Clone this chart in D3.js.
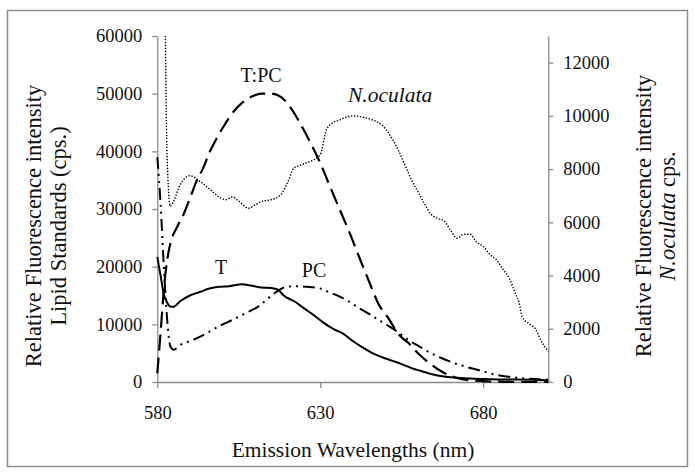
<!DOCTYPE html>
<html>
<head>
<meta charset="utf-8">
<script src="https://cdn.jsdelivr.net/npm/d3@7"></script>
</head>
<body style="margin:0">
<script>
// wavelengths (nm) and intensities, one pair of arrays per curve
var tWl = [580, 581, 582, 583, 584, 585, 587, 590, 593, 596, 599, 602, 606, 609, 612, 615, 617, 619, 622, 625, 628, 631, 634, 637, 640, 643, 646, 649, 652, 655, 658, 661, 664, 668, 672, 676, 680, 685, 690, 695, 700];
var tVal = [21700, 18500, 15200, 13800, 13100, 13050, 14000, 15000, 15600, 16200, 16500, 16600, 16950, 16700, 16400, 16300, 16000, 14900, 14000, 12800, 11600, 10300, 9200, 8400, 7100, 6000, 5000, 4300, 3700, 3100, 2400, 1900, 1400, 950, 750, 600, 520, 450, 420, 380, 300];

var tpcWl = [580, 581, 582, 583, 584, 586, 588, 590, 592, 594, 596, 598, 600, 603, 606, 609, 612, 615, 618, 621, 624, 627, 630, 633, 636, 639, 642, 645, 648, 651, 654, 657, 660, 663, 666, 669, 672, 676, 680, 685, 690, 695, 700];
var tpcVal = [1500, 8500, 16000, 21000, 24000, 26800, 29000, 31800, 34800, 37000, 39800, 42000, 44000, 46600, 48400, 49500, 50000, 50000, 49400, 47500, 44700, 41500, 38000, 33900, 29900, 25900, 21600, 17400, 13400, 11000, 8300, 6800, 5000, 3500, 2250, 1300, 700, 300, 150, 50, 0, 0, 0];

var pcWl = [580, 581, 582, 583, 584, 585, 587, 591, 595, 599, 603, 607, 611, 614, 617, 619, 622, 626, 630, 633, 636, 639, 642, 645, 648, 651, 654, 657, 660, 663, 667, 671, 675, 679, 684, 688, 692, 696, 700];
var pcVal = [39000, 31000, 20000, 11000, 6200, 5600, 6400, 7300, 8400, 9700, 10750, 11900, 13100, 14500, 15800, 16400, 16600, 16500, 16200, 15500, 14800, 13900, 12800, 11800, 10750, 9700, 8600, 7300, 6300, 5300, 4200, 3300, 2600, 2000, 1250, 900, 650, 500, 400];

var nocWl = [582, 583, 584, 585, 587, 590, 593, 596, 599, 601, 603, 605, 608, 610, 612, 615, 618, 620, 622, 624, 626, 628, 630, 632, 634, 636, 638, 640, 643, 646, 649, 651, 654, 656, 658, 660, 662, 664, 666, 668, 670, 672, 674, 676, 678, 680, 682, 684, 686, 688, 690, 691, 692, 694, 696, 698, 700];
var nocVal = [20000, 8500, 6600, 6800, 7400, 7750, 7550, 7250, 6950, 6850, 6950, 6800, 6530, 6650, 6780, 6850, 7050, 7500, 8050, 8150, 8250, 8350, 8550, 9500, 9750, 9850, 9950, 10000, 9950, 9850, 9650, 9350, 8700, 8150, 7600, 7150, 6700, 6300, 6150, 6050, 5700, 5400, 5550, 5550, 5250, 5100, 4800, 4600, 4250, 3900, 3300, 3000, 2450, 2200, 2000, 1500, 1150];

var xTicks = [580, 630, 680];
var leftTicks = [0, 10000, 20000, 30000, 40000, 50000, 60000];
var rightTicks = [0, 2000, 4000, 6000, 8000, 10000, 12000];

var width = 695, height = 473;
var serif = 'Liberation Serif';

var svg = d3.select('body')
  .append('svg')
  .attr('width', width)
  .attr('height', height);

// outer frame of the chart area
svg.append('rect')
  .attr('x', 7.5).attr('y', 10.5)
  .attr('width', 680).attr('height', 456)
  .attr('fill', 'none')
  .attr('stroke', '#8c8c8c')
  .attr('stroke-width', 1.5);

var x = d3.scaleLinear().domain([580, 700]).range([157.3, 548.3]);
var yL = d3.scaleLinear().domain([0, 60000]).range([382, 36]);
var yR = d3.scaleLinear().domain([0, 13000]).range([382, 36]);

svg.append('clipPath').attr('id', 'plot')
  .append('rect')
  .attr('x', x(580) - 2).attr('y', yL(60000))
  .attr('width', x(700) - x(580) + 4).attr('height', yL(0) - yL(60000) + 2);

function styleAxis(g) {
  g.attr('font-family', serif).attr('font-size', 18.5);
  g.selectAll('path, line').attr('stroke', '#8c8c8c').attr('stroke-width', 1.3);
  g.selectAll('text').attr('fill', '#111');
}

var fmt = d3.format('d');

svg.append('g')
  .attr('transform', 'translate(0,' + yL(0) + ')')
  .call(d3.axisBottom(x).tickValues(xTicks).tickFormat(fmt).tickSize(6).tickSizeOuter(0).tickPadding(18))
  .call(styleAxis);

svg.append('g')
  .attr('transform', 'translate(' + x(580) + ',0)')
  .call(d3.axisLeft(yL).tickValues(leftTicks).tickFormat(fmt).tickSize(5).tickSizeOuter(0).tickPadding(10))
  .call(styleAxis);

svg.append('g')
  .attr('transform', 'translate(' + x(700) + ',0)')
  .call(d3.axisRight(yR).tickValues(rightTicks).tickFormat(fmt).tickSize(5).tickSizeOuter(0).tickPadding(10))
  .call(styleAxis);

function pairs(wl, val) {
  return wl.map(function(w, i) { return [w, val[i]]; });
}

function drawLine(data, yScale, dash, sw) {
  var line = d3.line()
    .x(function(d) { return x(d[0]); })
    .y(function(d) { return yScale(d[1]); })
    .curve(d3.curveMonotoneX);
  svg.append('path')
    .datum(data)
    .attr('clip-path', 'url(#plot)')
    .attr('d', line)
    .attr('fill', 'none')
    .attr('stroke', '#000')
    .attr('stroke-width', sw)
    .attr('stroke-dasharray', dash);
}

drawLine(pairs(nocWl, nocVal), yR, '1.4,1.6', 1.4);
drawLine(pairs(pcWl, pcVal), yL, '12,5,2,5,2,5', 2);
drawLine(pairs(tpcWl, tpcVal), yL, '16,7', 2.2);
drawLine(pairs(tWl, tVal), yL, null, 2);

function label(xp, yp, txt, anchor, size) {
  return svg.append('text')
    .attr('x', xp).attr('y', yp)
    .attr('text-anchor', anchor)
    .attr('font-family', serif)
    .attr('font-size', size || 20)
    .attr('fill', '#111')
    .text(txt);
}

// series labels
label(261, 81.5, 'T:PC', 'middle');
label(348, 101.5, 'N.oculata', 'start', 21.5).attr('font-style', 'italic');
label(221, 274, 'T', 'middle');
label(314, 276.5, 'PC', 'middle');

// axis titles
label(353, 457, 'Emission Wavelengths (nm)', 'middle', 21.5);

var lt = label(0, 0, null, 'middle', 22.5).attr('transform', 'translate(41,226) rotate(-90)');
lt.append('tspan').attr('x', 0).attr('y', 0).text('Relative Fluorescence intensity');
lt.append('tspan').attr('x', 0).attr('y', 25).text('Lipid Standards (cps.)');

var rt = label(0, 0, null, 'middle', 22.5).attr('transform', 'translate(651,216) rotate(-90)');
rt.append('tspan').attr('x', 0).attr('y', 0).text('Relative Fluorescence intensity');
var rt2 = rt.append('tspan').attr('x', 0).attr('y', 24);
rt2.append('tspan').attr('font-style', 'italic').text('N.oculata');
rt2.append('tspan').text(' cps.');
</script>
</body>
</html>
